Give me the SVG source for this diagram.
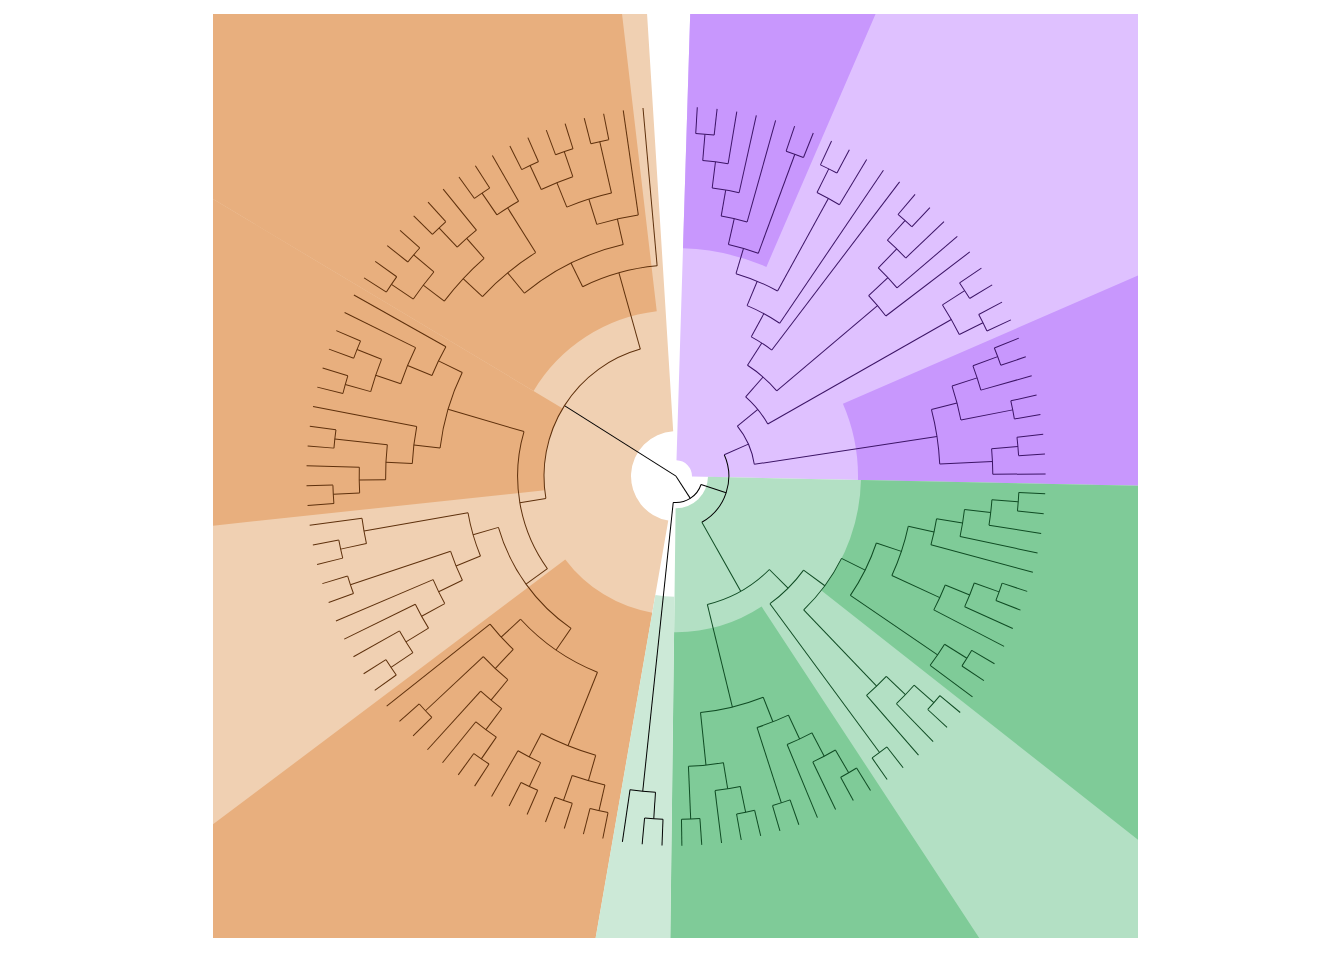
<svg xmlns="http://www.w3.org/2000/svg" width="1344" height="960" viewBox="0 0 1344 960">
<style>
.conn line,.conn circle{fill:none;stroke-width:1}
.o{stroke:#5e300c}.p{stroke:#3c1466}.g{stroke:#0f4b23}.k{stroke:#000}
.lo{fill:#f0d0b2}.do{fill:#e8af7e}.lp{fill:#dfc1ff}.dp{fill:#c897fd}.lg{fill:#b3e0c4}.dg{fill:#7fcb98}.sg{fill:#cce9d7}
</style>
<defs><clipPath id="panel"><rect x="213" y="14" width="925" height="924"/></clipPath></defs>
<rect width="1344" height="960" fill="#fff"/>
<g id="highlights" clip-path="url(#panel)">
<g transform="translate(676 476.2)">
<path id="hl-orange" class="lo" transform="rotate(189.88)" d="M0,-45L0,-700A700,700 0 0,1 162.96,680.75L10.48,43.76A45,45 0 0,0 0,-45Z"/>
<path id="hl-orange-a" class="do" transform="rotate(300.9)" d="M0,-166L0,-700A700,700 0 0,1 554.9,-426.7L131.6,-101.2A166,166 0 0,0 0,-166Z"/>
<path id="hl-orange-b" class="do" transform="rotate(263.9)" d="M0,-132L0,-700A700,700 0 0,1 421.3,-559L79.4,-105.4A132,132 0 0,0 0,-132Z"/>
<path id="hl-orange-c" class="do" transform="rotate(189.88)" d="M0,-138.5L0,-700A700,700 0 0,1 479,-510.5L94.8,-101A138.5,138.5 0 0,0 0,-138.5Z"/>
<path id="hl-purple" class="lp" transform="rotate(1.76)" d="M0,-16L0,-700A700,700 0 0,1 700,-7L16,-0.16A16,16 0 0,0 0,-16Z"/>
<path id="hl-purple-a" class="dp" transform="rotate(1.76)" d="M0,-228L0,-700A700,700 0 0,1 257.6,-650.9L83.9,-212A228,228 0 0,0 0,-228Z"/>
<path id="hl-purple-b" class="dp" transform="rotate(66.52)" d="M0,-182L0,-700A700,700 0 0,1 292.2,-636.2L76,-165.4A182,182 0 0,0 0,-182Z"/>
<path id="hl-green" class="lg" transform="rotate(91.19)" d="M0,-32L0,-700A700,700 0 0,1 700,-6L32,-0.27A32,32 0 0,0 0,-32Z"/>
<path id="hl-green-a" class="dg" transform="rotate(91.19)" d="M0,-185L0,-700A700,700 0 0,1 421.3,-559L111.3,-147.7A185,185 0 0,0 0,-185Z"/>
<path id="hl-green-b" class="dg" transform="rotate(146.71)" d="M0,-156L0,-700A700,700 0 0,1 391.4,-580.3L87.2,-129.3A156,156 0 0,0 0,-156Z"/>
<path id="hl-strip" class="sg" transform="rotate(180.7)" d="M0,-120.6L0,-700A700,700 0 0,1 111.7,-691L19.2,-119.1A120.6,120.6 0 0,0 0,-120.6Z"/>
</g>
</g>
<g id="connectors" class="conn" transform="translate(676 476.2)">
<g id="root" class="k">
<line transform="rotate(302.316)" y1="0" y2="-132"/>
<line transform="rotate(147.193)" y1="0" y2="-26.4"/>
<circle r="26.4" pathLength="360" stroke-dasharray="77.668 400" transform="rotate(18.359)"/>
<line transform="rotate(108.359)" y1="-26.4" y2="-52.8"/>
<circle r="52.8" pathLength="360" stroke-dasharray="84.538 400" transform="rotate(-23.91)"/>
<line transform="rotate(186.027)" y1="-26.4" y2="-316.8"/>
<circle r="316.8" pathLength="360" stroke-dasharray="4.626 400" transform="rotate(93.714)"/>
<line transform="rotate(183.714)" y1="-316.8" y2="-343.2"/>
<circle r="343.2" pathLength="360" stroke-dasharray="3.084 400" transform="rotate(92.172)"/>
<line transform="rotate(182.172)" y1="-343.2" y2="-369.6"/>
<line transform="rotate(185.256)" y1="-343.2" y2="-369.6"/>
<line transform="rotate(188.34)" y1="-316.8" y2="-369.6"/>
</g>
<g id="clade-purple" class="p">
<line transform="rotate(66.09)" y1="-52.8" y2="-79.2"/>
<circle r="79.2" pathLength="360" stroke-dasharray="30.548 400" transform="rotate(-39.184)"/>
<line transform="rotate(50.816)" y1="-79.2" y2="-105.6"/>
<line transform="rotate(81.364)" y1="-79.2" y2="-264"/>
<circle r="105.6" pathLength="360" stroke-dasharray="19.076 400" transform="rotate(-48.722)"/>
<line transform="rotate(41.278)" y1="-105.6" y2="-132"/>
<line transform="rotate(60.354)" y1="-105.6" y2="-316.8"/>
<circle r="132" pathLength="360" stroke-dasharray="16.95 400" transform="rotate(-57.197)"/>
<line transform="rotate(32.803)" y1="-132" y2="-158.4"/>
<line transform="rotate(49.753)" y1="-132" y2="-264"/>
<circle r="158.4" pathLength="360" stroke-dasharray="8.842 400" transform="rotate(-61.618)"/>
<line transform="rotate(28.382)" y1="-158.4" y2="-184.8"/>
<line transform="rotate(37.224)" y1="-158.4" y2="-369.6"/>
<circle r="184.8" pathLength="360" stroke-dasharray="11.516 400" transform="rotate(-67.376)"/>
<line transform="rotate(22.624)" y1="-184.8" y2="-211.2"/>
<line transform="rotate(34.14)" y1="-184.8" y2="-369.6"/>
<circle r="211.2" pathLength="360" stroke-dasharray="12.239 400" transform="rotate(-73.496)"/>
<line transform="rotate(16.504)" y1="-211.2" y2="-237.6"/>
<line transform="rotate(28.743)" y1="-211.2" y2="-316.8"/>
<circle r="237.6" pathLength="360" stroke-dasharray="7.517 400" transform="rotate(-77.255)"/>
<line transform="rotate(12.745)" y1="-237.6" y2="-264"/>
<line transform="rotate(20.262)" y1="-237.6" y2="-343.2"/>
<circle r="264" pathLength="360" stroke-dasharray="5.782 400" transform="rotate(-80.146)"/>
<line transform="rotate(9.854)" y1="-264" y2="-290.4"/>
<line transform="rotate(15.636)" y1="-264" y2="-369.6"/>
<circle r="290.4" pathLength="360" stroke-dasharray="5.397 400" transform="rotate(-82.845)"/>
<line transform="rotate(7.155)" y1="-290.4" y2="-316.8"/>
<line transform="rotate(12.552)" y1="-290.4" y2="-369.6"/>
<circle r="316.8" pathLength="360" stroke-dasharray="4.626 400" transform="rotate(-85.158)"/>
<line transform="rotate(4.842)" y1="-316.8" y2="-343.2"/>
<line transform="rotate(9.468)" y1="-316.8" y2="-369.6"/>
<circle r="343.2" pathLength="360" stroke-dasharray="3.084 400" transform="rotate(-86.7)"/>
<line transform="rotate(3.3)" y1="-343.2" y2="-369.6"/>
<line transform="rotate(6.384)" y1="-343.2" y2="-369.6"/>
<circle r="343.2" pathLength="360" stroke-dasharray="3.084 400" transform="rotate(-71.28)"/>
<line transform="rotate(18.72)" y1="-343.2" y2="-369.6"/>
<line transform="rotate(21.804)" y1="-343.2" y2="-369.6"/>
<circle r="316.8" pathLength="360" stroke-dasharray="4.626 400" transform="rotate(-63.57)"/>
<line transform="rotate(26.43)" y1="-316.8" y2="-343.2"/>
<line transform="rotate(31.056)" y1="-316.8" y2="-369.6"/>
<circle r="343.2" pathLength="360" stroke-dasharray="3.084 400" transform="rotate(-65.112)"/>
<line transform="rotate(24.888)" y1="-343.2" y2="-369.6"/>
<line transform="rotate(27.972)" y1="-343.2" y2="-369.6"/>
<circle r="264" pathLength="360" stroke-dasharray="5.782 400" transform="rotate(-43.138)"/>
<line transform="rotate(46.862)" y1="-264" y2="-290.4"/>
<line transform="rotate(52.644)" y1="-264" y2="-369.6"/>
<circle r="290.4" pathLength="360" stroke-dasharray="5.397 400" transform="rotate(-45.837)"/>
<line transform="rotate(44.163)" y1="-290.4" y2="-316.8"/>
<line transform="rotate(49.56)" y1="-290.4" y2="-369.6"/>
<circle r="316.8" pathLength="360" stroke-dasharray="4.626 400" transform="rotate(-48.15)"/>
<line transform="rotate(41.85)" y1="-316.8" y2="-343.2"/>
<line transform="rotate(46.476)" y1="-316.8" y2="-369.6"/>
<circle r="343.2" pathLength="360" stroke-dasharray="3.084 400" transform="rotate(-49.692)"/>
<line transform="rotate(40.308)" y1="-343.2" y2="-369.6"/>
<line transform="rotate(43.392)" y1="-343.2" y2="-369.6"/>
<circle r="316.8" pathLength="360" stroke-dasharray="6.168 400" transform="rotate(-32.73)"/>
<line transform="rotate(57.27)" y1="-316.8" y2="-343.2"/>
<line transform="rotate(63.438)" y1="-316.8" y2="-343.2"/>
<circle r="343.2" pathLength="360" stroke-dasharray="3.084 400" transform="rotate(-34.272)"/>
<line transform="rotate(55.728)" y1="-343.2" y2="-369.6"/>
<line transform="rotate(58.812)" y1="-343.2" y2="-369.6"/>
<circle r="343.2" pathLength="360" stroke-dasharray="3.084 400" transform="rotate(-28.104)"/>
<line transform="rotate(61.896)" y1="-343.2" y2="-369.6"/>
<line transform="rotate(64.98)" y1="-343.2" y2="-369.6"/>
<circle r="264" pathLength="360" stroke-dasharray="11.95 400" transform="rotate(-14.611)"/>
<line transform="rotate(75.389)" y1="-264" y2="-290.4"/>
<line transform="rotate(87.339)" y1="-264" y2="-316.8"/>
<circle r="290.4" pathLength="360" stroke-dasharray="6.939 400" transform="rotate(-18.081)"/>
<line transform="rotate(71.919)" y1="-290.4" y2="-316.8"/>
<line transform="rotate(78.858)" y1="-290.4" y2="-343.2"/>
<circle r="316.8" pathLength="360" stroke-dasharray="4.626 400" transform="rotate(-20.394)"/>
<line transform="rotate(69.606)" y1="-316.8" y2="-343.2"/>
<line transform="rotate(74.232)" y1="-316.8" y2="-369.6"/>
<circle r="343.2" pathLength="360" stroke-dasharray="3.084 400" transform="rotate(-21.936)"/>
<line transform="rotate(68.064)" y1="-343.2" y2="-369.6"/>
<line transform="rotate(71.148)" y1="-343.2" y2="-369.6"/>
<circle r="343.2" pathLength="360" stroke-dasharray="3.084 400" transform="rotate(-12.684)"/>
<line transform="rotate(77.316)" y1="-343.2" y2="-369.6"/>
<line transform="rotate(80.4)" y1="-343.2" y2="-369.6"/>
<circle r="316.8" pathLength="360" stroke-dasharray="4.626 400" transform="rotate(-4.974)"/>
<line transform="rotate(85.026)" y1="-316.8" y2="-343.2"/>
<line transform="rotate(89.652)" y1="-316.8" y2="-369.6"/>
<circle r="343.2" pathLength="360" stroke-dasharray="3.084 400" transform="rotate(-6.516)"/>
<line transform="rotate(83.484)" y1="-343.2" y2="-369.6"/>
<line transform="rotate(86.568)" y1="-343.2" y2="-369.6"/>
</g>
<g id="clade-green" class="g">
<line transform="rotate(150.628)" y1="-52.8" y2="-132"/>
<circle r="132" pathLength="360" stroke-dasharray="31.285 400" transform="rotate(44.985)"/>
<line transform="rotate(134.985)" y1="-132" y2="-158.4"/>
<line transform="rotate(166.27)" y1="-132" y2="-237.6"/>
<circle r="158.4" pathLength="360" stroke-dasharray="17.275 400" transform="rotate(36.347)"/>
<line transform="rotate(126.347)" y1="-158.4" y2="-184.8"/>
<line transform="rotate(143.622)" y1="-158.4" y2="-343.2"/>
<circle r="343.2" pathLength="360" stroke-dasharray="3.084 400" transform="rotate(52.08)"/>
<line transform="rotate(142.08)" y1="-343.2" y2="-369.6"/>
<line transform="rotate(145.164)" y1="-343.2" y2="-369.6"/>
<circle r="184.8" pathLength="360" stroke-dasharray="19.902 400" transform="rotate(26.396)"/>
<line transform="rotate(116.396)" y1="-184.8" y2="-211.2"/>
<line transform="rotate(136.298)" y1="-184.8" y2="-290.4"/>
<circle r="290.4" pathLength="360" stroke-dasharray="5.397 400" transform="rotate(43.599)"/>
<line transform="rotate(133.599)" y1="-290.4" y2="-316.8"/>
<line transform="rotate(138.996)" y1="-290.4" y2="-369.6"/>
<circle r="316.8" pathLength="360" stroke-dasharray="4.626 400" transform="rotate(41.286)"/>
<line transform="rotate(131.286)" y1="-316.8" y2="-343.2"/>
<line transform="rotate(135.912)" y1="-316.8" y2="-369.6"/>
<circle r="343.2" pathLength="360" stroke-dasharray="3.084 400" transform="rotate(39.744)"/>
<line transform="rotate(129.744)" y1="-343.2" y2="-369.6"/>
<line transform="rotate(132.828)" y1="-343.2" y2="-369.6"/>
<circle r="211.2" pathLength="360" stroke-dasharray="15.902 400" transform="rotate(18.445)"/>
<line transform="rotate(108.445)" y1="-211.2" y2="-237.6"/>
<line transform="rotate(124.347)" y1="-211.2" y2="-316.8"/>
<circle r="316.8" pathLength="360" stroke-dasharray="4.626 400" transform="rotate(32.034)"/>
<line transform="rotate(122.034)" y1="-316.8" y2="-343.2"/>
<line transform="rotate(126.66)" y1="-316.8" y2="-369.6"/>
<circle r="343.2" pathLength="360" stroke-dasharray="3.084 400" transform="rotate(30.492)"/>
<line transform="rotate(120.492)" y1="-343.2" y2="-369.6"/>
<line transform="rotate(123.576)" y1="-343.2" y2="-369.6"/>
<circle r="237.6" pathLength="360" stroke-dasharray="12.529 400" transform="rotate(12.181)"/>
<line transform="rotate(102.181)" y1="-237.6" y2="-264"/>
<line transform="rotate(114.71)" y1="-237.6" y2="-290.4"/>
<circle r="264" pathLength="360" stroke-dasharray="5.782 400" transform="rotate(9.29)"/>
<line transform="rotate(99.29)" y1="-264" y2="-290.4"/>
<line transform="rotate(105.072)" y1="-264" y2="-369.6"/>
<circle r="290.4" pathLength="360" stroke-dasharray="5.397 400" transform="rotate(6.591)"/>
<line transform="rotate(96.591)" y1="-290.4" y2="-316.8"/>
<line transform="rotate(101.988)" y1="-290.4" y2="-369.6"/>
<circle r="316.8" pathLength="360" stroke-dasharray="4.626 400" transform="rotate(4.278)"/>
<line transform="rotate(94.278)" y1="-316.8" y2="-343.2"/>
<line transform="rotate(98.904)" y1="-316.8" y2="-369.6"/>
<circle r="343.2" pathLength="360" stroke-dasharray="3.084 400" transform="rotate(2.736)"/>
<line transform="rotate(92.736)" y1="-343.2" y2="-369.6"/>
<line transform="rotate(95.82)" y1="-343.2" y2="-369.6"/>
<circle r="290.4" pathLength="360" stroke-dasharray="5.397 400" transform="rotate(22.011)"/>
<line transform="rotate(112.011)" y1="-290.4" y2="-316.8"/>
<line transform="rotate(117.408)" y1="-290.4" y2="-369.6"/>
<circle r="316.8" pathLength="360" stroke-dasharray="4.626 400" transform="rotate(19.698)"/>
<line transform="rotate(109.698)" y1="-316.8" y2="-343.2"/>
<line transform="rotate(114.324)" y1="-316.8" y2="-369.6"/>
<circle r="343.2" pathLength="360" stroke-dasharray="3.084 400" transform="rotate(18.156)"/>
<line transform="rotate(108.156)" y1="-343.2" y2="-369.6"/>
<line transform="rotate(111.24)" y1="-343.2" y2="-369.6"/>
<circle r="237.6" pathLength="360" stroke-dasharray="15.613 400" transform="rotate(68.464)"/>
<line transform="rotate(158.464)" y1="-237.6" y2="-264"/>
<line transform="rotate(174.077)" y1="-237.6" y2="-290.4"/>
<circle r="264" pathLength="360" stroke-dasharray="7.324 400" transform="rotate(64.802)"/>
<line transform="rotate(154.802)" y1="-264" y2="-290.4"/>
<line transform="rotate(162.126)" y1="-264" y2="-343.2"/>
<circle r="290.4" pathLength="360" stroke-dasharray="5.397 400" transform="rotate(62.103)"/>
<line transform="rotate(152.103)" y1="-290.4" y2="-316.8"/>
<line transform="rotate(157.5)" y1="-290.4" y2="-369.6"/>
<circle r="316.8" pathLength="360" stroke-dasharray="4.626 400" transform="rotate(59.79)"/>
<line transform="rotate(149.79)" y1="-316.8" y2="-343.2"/>
<line transform="rotate(154.416)" y1="-316.8" y2="-369.6"/>
<circle r="343.2" pathLength="360" stroke-dasharray="3.084 400" transform="rotate(58.248)"/>
<line transform="rotate(148.248)" y1="-343.2" y2="-369.6"/>
<line transform="rotate(151.332)" y1="-343.2" y2="-369.6"/>
<circle r="343.2" pathLength="360" stroke-dasharray="3.084 400" transform="rotate(70.584)"/>
<line transform="rotate(160.584)" y1="-343.2" y2="-369.6"/>
<line transform="rotate(163.668)" y1="-343.2" y2="-369.6"/>
<circle r="290.4" pathLength="360" stroke-dasharray="6.939 400" transform="rotate(80.607)"/>
<line transform="rotate(170.607)" y1="-290.4" y2="-316.8"/>
<line transform="rotate(177.546)" y1="-290.4" y2="-343.2"/>
<circle r="316.8" pathLength="360" stroke-dasharray="4.626 400" transform="rotate(78.294)"/>
<line transform="rotate(168.294)" y1="-316.8" y2="-343.2"/>
<line transform="rotate(172.92)" y1="-316.8" y2="-369.6"/>
<circle r="343.2" pathLength="360" stroke-dasharray="3.084 400" transform="rotate(76.752)"/>
<line transform="rotate(166.752)" y1="-343.2" y2="-369.6"/>
<line transform="rotate(169.836)" y1="-343.2" y2="-369.6"/>
<circle r="343.2" pathLength="360" stroke-dasharray="3.084 400" transform="rotate(86.004)"/>
<line transform="rotate(176.004)" y1="-343.2" y2="-369.6"/>
<line transform="rotate(179.088)" y1="-343.2" y2="-369.6"/>
</g>
<g id="clade-orange" class="o">
<circle r="132" pathLength="360" stroke-dasharray="84.014 400" transform="rotate(170.309)"/>
<line transform="rotate(260.309)" y1="-132" y2="-158.4"/>
<line transform="rotate(344.323)" y1="-132" y2="-211.2"/>
<circle r="158.4" pathLength="360" stroke-dasharray="52.09 400" transform="rotate(144.264)"/>
<line transform="rotate(234.264)" y1="-158.4" y2="-184.8"/>
<line transform="rotate(286.354)" y1="-158.4" y2="-237.6"/>
<circle r="184.8" pathLength="360" stroke-dasharray="39.321 400" transform="rotate(124.603)"/>
<line transform="rotate(214.603)" y1="-184.8" y2="-211.2"/>
<line transform="rotate(253.924)" y1="-184.8" y2="-211.2"/>
<circle r="211.2" pathLength="360" stroke-dasharray="25.539 400" transform="rotate(111.833)"/>
<line transform="rotate(201.833)" y1="-211.2" y2="-290.4"/>
<line transform="rotate(227.372)" y1="-211.2" y2="-237.6"/>
<circle r="290.4" pathLength="360" stroke-dasharray="11.565 400" transform="rotate(106.05)"/>
<line transform="rotate(196.05)" y1="-290.4" y2="-316.8"/>
<line transform="rotate(207.615)" y1="-290.4" y2="-316.8"/>
<circle r="316.8" pathLength="360" stroke-dasharray="6.168 400" transform="rotate(102.966)"/>
<line transform="rotate(192.966)" y1="-316.8" y2="-343.2"/>
<line transform="rotate(199.134)" y1="-316.8" y2="-343.2"/>
<circle r="343.2" pathLength="360" stroke-dasharray="3.084 400" transform="rotate(101.424)"/>
<line transform="rotate(191.424)" y1="-343.2" y2="-369.6"/>
<line transform="rotate(194.508)" y1="-343.2" y2="-369.6"/>
<circle r="343.2" pathLength="360" stroke-dasharray="3.084 400" transform="rotate(107.592)"/>
<line transform="rotate(197.592)" y1="-343.2" y2="-369.6"/>
<line transform="rotate(200.676)" y1="-343.2" y2="-369.6"/>
<circle r="316.8" pathLength="360" stroke-dasharray="4.626 400" transform="rotate(115.302)"/>
<line transform="rotate(205.302)" y1="-316.8" y2="-343.2"/>
<line transform="rotate(209.928)" y1="-316.8" y2="-369.6"/>
<circle r="343.2" pathLength="360" stroke-dasharray="3.084 400" transform="rotate(113.76)"/>
<line transform="rotate(203.76)" y1="-343.2" y2="-369.6"/>
<line transform="rotate(206.844)" y1="-343.2" y2="-369.6"/>
<circle r="237.6" pathLength="360" stroke-dasharray="8.288 400" transform="rotate(133.228)"/>
<line transform="rotate(223.228)" y1="-237.6" y2="-264"/>
<line transform="rotate(231.516)" y1="-237.6" y2="-369.6"/>
<circle r="264" pathLength="360" stroke-dasharray="7.324 400" transform="rotate(129.566)"/>
<line transform="rotate(219.566)" y1="-264" y2="-290.4"/>
<line transform="rotate(226.89)" y1="-264" y2="-343.2"/>
<circle r="343.2" pathLength="360" stroke-dasharray="3.084 400" transform="rotate(135.348)"/>
<line transform="rotate(225.348)" y1="-343.2" y2="-369.6"/>
<line transform="rotate(228.432)" y1="-343.2" y2="-369.6"/>
<circle r="290.4" pathLength="360" stroke-dasharray="5.397 400" transform="rotate(126.867)"/>
<line transform="rotate(216.867)" y1="-290.4" y2="-316.8"/>
<line transform="rotate(222.264)" y1="-290.4" y2="-369.6"/>
<circle r="316.8" pathLength="360" stroke-dasharray="4.626 400" transform="rotate(124.554)"/>
<line transform="rotate(214.554)" y1="-316.8" y2="-343.2"/>
<line transform="rotate(219.18)" y1="-316.8" y2="-369.6"/>
<circle r="343.2" pathLength="360" stroke-dasharray="3.084 400" transform="rotate(123.012)"/>
<line transform="rotate(213.012)" y1="-343.2" y2="-369.6"/>
<line transform="rotate(216.096)" y1="-343.2" y2="-369.6"/>
<circle r="211.2" pathLength="360" stroke-dasharray="12.239 400" transform="rotate(157.804)"/>
<line transform="rotate(247.804)" y1="-211.2" y2="-237.6"/>
<line transform="rotate(260.043)" y1="-211.2" y2="-316.8"/>
<circle r="237.6" pathLength="360" stroke-dasharray="7.517 400" transform="rotate(154.045)"/>
<line transform="rotate(244.045)" y1="-237.6" y2="-264"/>
<line transform="rotate(251.562)" y1="-237.6" y2="-343.2"/>
<circle r="343.2" pathLength="360" stroke-dasharray="3.084 400" transform="rotate(160.02)"/>
<line transform="rotate(250.02)" y1="-343.2" y2="-369.6"/>
<line transform="rotate(253.104)" y1="-343.2" y2="-369.6"/>
<circle r="264" pathLength="360" stroke-dasharray="5.782 400" transform="rotate(151.154)"/>
<line transform="rotate(241.154)" y1="-264" y2="-290.4"/>
<line transform="rotate(246.936)" y1="-264" y2="-369.6"/>
<circle r="290.4" pathLength="360" stroke-dasharray="5.397 400" transform="rotate(148.455)"/>
<line transform="rotate(238.455)" y1="-290.4" y2="-316.8"/>
<line transform="rotate(243.852)" y1="-290.4" y2="-369.6"/>
<circle r="316.8" pathLength="360" stroke-dasharray="4.626 400" transform="rotate(146.142)"/>
<line transform="rotate(236.142)" y1="-316.8" y2="-343.2"/>
<line transform="rotate(240.768)" y1="-316.8" y2="-369.6"/>
<circle r="343.2" pathLength="360" stroke-dasharray="3.084 400" transform="rotate(144.6)"/>
<line transform="rotate(234.6)" y1="-343.2" y2="-369.6"/>
<line transform="rotate(237.684)" y1="-343.2" y2="-369.6"/>
<circle r="316.8" pathLength="360" stroke-dasharray="4.626 400" transform="rotate(167.73)"/>
<line transform="rotate(257.73)" y1="-316.8" y2="-343.2"/>
<line transform="rotate(262.356)" y1="-316.8" y2="-369.6"/>
<circle r="343.2" pathLength="360" stroke-dasharray="3.084 400" transform="rotate(166.188)"/>
<line transform="rotate(256.188)" y1="-343.2" y2="-369.6"/>
<line transform="rotate(259.272)" y1="-343.2" y2="-369.6"/>
<circle r="237.6" pathLength="360" stroke-dasharray="19.082 400" transform="rotate(186.813)"/>
<line transform="rotate(276.813)" y1="-237.6" y2="-264"/>
<line transform="rotate(295.895)" y1="-237.6" y2="-264"/>
<circle r="264" pathLength="360" stroke-dasharray="8.095 400" transform="rotate(182.765)"/>
<line transform="rotate(272.765)" y1="-264" y2="-290.4"/>
<line transform="rotate(280.86)" y1="-264" y2="-369.6"/>
<circle r="290.4" pathLength="360" stroke-dasharray="6.939 400" transform="rotate(179.295)"/>
<line transform="rotate(269.295)" y1="-290.4" y2="-316.8"/>
<line transform="rotate(276.234)" y1="-290.4" y2="-343.2"/>
<circle r="316.8" pathLength="360" stroke-dasharray="4.626 400" transform="rotate(176.982)"/>
<line transform="rotate(266.982)" y1="-316.8" y2="-343.2"/>
<line transform="rotate(271.608)" y1="-316.8" y2="-369.6"/>
<circle r="343.2" pathLength="360" stroke-dasharray="3.084 400" transform="rotate(175.44)"/>
<line transform="rotate(265.44)" y1="-343.2" y2="-369.6"/>
<line transform="rotate(268.524)" y1="-343.2" y2="-369.6"/>
<circle r="343.2" pathLength="360" stroke-dasharray="3.084 400" transform="rotate(184.692)"/>
<line transform="rotate(274.692)" y1="-343.2" y2="-369.6"/>
<line transform="rotate(277.776)" y1="-343.2" y2="-369.6"/>
<circle r="264" pathLength="360" stroke-dasharray="6.939 400" transform="rotate(202.425)"/>
<line transform="rotate(292.425)" y1="-264" y2="-290.4"/>
<line transform="rotate(299.364)" y1="-264" y2="-369.6"/>
<circle r="290.4" pathLength="360" stroke-dasharray="7.71 400" transform="rotate(198.57)"/>
<line transform="rotate(288.57)" y1="-290.4" y2="-316.8"/>
<line transform="rotate(296.28)" y1="-290.4" y2="-369.6"/>
<circle r="316.8" pathLength="360" stroke-dasharray="6.168 400" transform="rotate(195.486)"/>
<line transform="rotate(285.486)" y1="-316.8" y2="-343.2"/>
<line transform="rotate(291.654)" y1="-316.8" y2="-343.2"/>
<circle r="343.2" pathLength="360" stroke-dasharray="3.084 400" transform="rotate(193.944)"/>
<line transform="rotate(283.944)" y1="-343.2" y2="-369.6"/>
<line transform="rotate(287.028)" y1="-343.2" y2="-369.6"/>
<circle r="343.2" pathLength="360" stroke-dasharray="3.084 400" transform="rotate(200.112)"/>
<line transform="rotate(290.112)" y1="-343.2" y2="-369.6"/>
<line transform="rotate(293.196)" y1="-343.2" y2="-369.6"/>
<circle r="211.2" pathLength="360" stroke-dasharray="21.106 400" transform="rotate(243.77)"/>
<line transform="rotate(333.77)" y1="-211.2" y2="-237.6"/>
<line transform="rotate(354.876)" y1="-211.2" y2="-369.6"/>
<circle r="237.6" pathLength="360" stroke-dasharray="26.792 400" transform="rotate(230.374)"/>
<line transform="rotate(320.374)" y1="-237.6" y2="-264"/>
<line transform="rotate(347.166)" y1="-237.6" y2="-264"/>
<circle r="264" pathLength="360" stroke-dasharray="15.034 400" transform="rotate(222.857)"/>
<line transform="rotate(312.857)" y1="-264" y2="-290.4"/>
<line transform="rotate(327.891)" y1="-264" y2="-316.8"/>
<circle r="290.4" pathLength="360" stroke-dasharray="11.565 400" transform="rotate(217.074)"/>
<line transform="rotate(307.074)" y1="-290.4" y2="-316.8"/>
<line transform="rotate(318.639)" y1="-290.4" y2="-316.8"/>
<circle r="316.8" pathLength="360" stroke-dasharray="6.168 400" transform="rotate(213.99)"/>
<line transform="rotate(303.99)" y1="-316.8" y2="-343.2"/>
<line transform="rotate(310.158)" y1="-316.8" y2="-343.2"/>
<circle r="343.2" pathLength="360" stroke-dasharray="3.084 400" transform="rotate(212.448)"/>
<line transform="rotate(302.448)" y1="-343.2" y2="-369.6"/>
<line transform="rotate(305.532)" y1="-343.2" y2="-369.6"/>
<circle r="343.2" pathLength="360" stroke-dasharray="3.084 400" transform="rotate(218.616)"/>
<line transform="rotate(308.616)" y1="-343.2" y2="-369.6"/>
<line transform="rotate(311.7)" y1="-343.2" y2="-369.6"/>
<circle r="316.8" pathLength="360" stroke-dasharray="4.626 400" transform="rotate(226.326)"/>
<line transform="rotate(316.326)" y1="-316.8" y2="-343.2"/>
<line transform="rotate(320.952)" y1="-316.8" y2="-369.6"/>
<circle r="343.2" pathLength="360" stroke-dasharray="3.084 400" transform="rotate(224.784)"/>
<line transform="rotate(314.784)" y1="-343.2" y2="-369.6"/>
<line transform="rotate(317.868)" y1="-343.2" y2="-369.6"/>
<circle r="316.8" pathLength="360" stroke-dasharray="4.626 400" transform="rotate(235.578)"/>
<line transform="rotate(325.578)" y1="-316.8" y2="-343.2"/>
<line transform="rotate(330.204)" y1="-316.8" y2="-369.6"/>
<circle r="343.2" pathLength="360" stroke-dasharray="3.084 400" transform="rotate(234.036)"/>
<line transform="rotate(324.036)" y1="-343.2" y2="-369.6"/>
<line transform="rotate(327.12)" y1="-343.2" y2="-369.6"/>
<circle r="264" pathLength="360" stroke-dasharray="9.252 400" transform="rotate(252.54)"/>
<line transform="rotate(342.54)" y1="-264" y2="-290.4"/>
<line transform="rotate(351.792)" y1="-264" y2="-369.6"/>
<circle r="290.4" pathLength="360" stroke-dasharray="9.252 400" transform="rotate(247.914)"/>
<line transform="rotate(337.914)" y1="-290.4" y2="-316.8"/>
<line transform="rotate(347.166)" y1="-290.4" y2="-343.2"/>
<circle r="316.8" pathLength="360" stroke-dasharray="6.168 400" transform="rotate(244.83)"/>
<line transform="rotate(334.83)" y1="-316.8" y2="-343.2"/>
<line transform="rotate(340.998)" y1="-316.8" y2="-343.2"/>
<circle r="343.2" pathLength="360" stroke-dasharray="3.084 400" transform="rotate(243.288)"/>
<line transform="rotate(333.288)" y1="-343.2" y2="-369.6"/>
<line transform="rotate(336.372)" y1="-343.2" y2="-369.6"/>
<circle r="343.2" pathLength="360" stroke-dasharray="3.084 400" transform="rotate(249.456)"/>
<line transform="rotate(339.456)" y1="-343.2" y2="-369.6"/>
<line transform="rotate(342.54)" y1="-343.2" y2="-369.6"/>
<circle r="343.2" pathLength="360" stroke-dasharray="3.084 400" transform="rotate(255.624)"/>
<line transform="rotate(345.624)" y1="-343.2" y2="-369.6"/>
<line transform="rotate(348.708)" y1="-343.2" y2="-369.6"/>
</g>
</g>
</svg>
